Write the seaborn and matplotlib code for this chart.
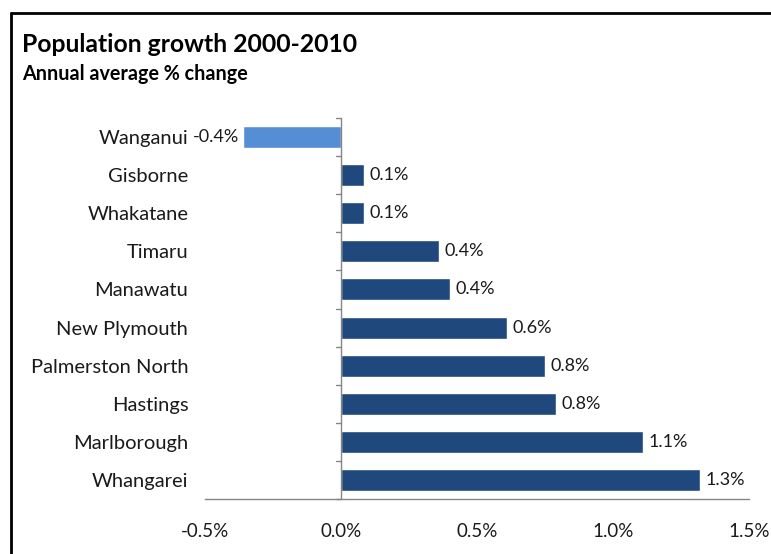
import matplotlib
matplotlib.use("Agg")
import matplotlib.pyplot as plt
import seaborn as sns
import pandas as pd
from matplotlib.lines import Line2D

regions = ["Wanganui", "Gisborne", "Whakatane", "Timaru", "Manawatu",
           "New Plymouth", "Palmerston North", "Hastings", "Marlborough", "Whangarei"]
growth = [-0.36, 0.085, 0.085, 0.36, 0.40, 0.61, 0.75, 0.79, 1.11, 1.32]
x_ticks = [-0.5, 0.0, 0.5, 1.0, 1.5]

sns.set_theme(style="white")
plt.rcParams["font.family"] = ["Lato", "DejaVu Sans"]

df = pd.DataFrame({"region": regions, "growth": growth})
df["sign"] = ["neg" if v < 0 else "pos" for v in growth]

fig = plt.figure(figsize=(7.71, 5.54), dpi=100)
ax = fig.add_axes([205 / 771, 55 / 554, 544 / 771, 381 / 554])

sns.barplot(data=df, y="region", x="growth", hue="sign", orient="h",
            palette={"neg": "#558ED5", "pos": "#1F497D"}, width=0.58,
            dodge=False, legend=False, saturation=1, ax=ax)

ax.set_xlim(-0.5, 1.5)
ax.set_ylim(len(regions) - 0.5, -0.5)
ax.set_xticks(x_ticks)
ax.set_xticklabels([f"{t:.1f}%" for t in x_ticks], fontsize=13.5, color="#1a1a1a")
ax.set_xlabel("")
ax.set_ylabel("")
ax.tick_params(axis="x", length=6, width=1, color="#868686", pad=11, direction="out")
ax.tick_params(axis="y", length=0, pad=12, labelsize=14.5, labelcolor="#1a1a1a")

for s in ["top", "right", "left"]:
    ax.spines[s].set_visible(False)
ax.spines["bottom"].set_color("#868686")
ax.spines["bottom"].set_linewidth(1)

# vertical axis crossing at zero, with category separator ticks
ax.axvline(0, color="#868686", lw=1, zorder=3)
for b in [i - 0.5 for i in range(len(regions) + 1)]:
    ax.plot([-0.02, 0], [b, b], color="#868686", lw=1, zorder=3, clip_on=False)

# value labels
for i, v in enumerate(growth):
    if v < 0:
        ax.text(v - 0.015, i, f"{v:.1f}%", ha="right", va="center", fontsize=13, color="#1a1a1a")
    else:
        ax.text(v + 0.02, i, f"{v:.1f}%", ha="left", va="center", fontsize=13, color="#1a1a1a")

fig.text(22 / 771, 1 - 45 / 554, "Population growth 2000-2010", fontsize=17.8,
         fontweight="bold", ha="left", va="center", color="black")
fig.text(22 / 771, 1 - 74 / 554, "Annual average % change", fontsize=14.2,
         fontweight="bold", ha="left", va="center", color="black")

# frame around the chart area
fig.add_artist(Line2D([11 / 771, 11 / 771], [0, 1 - 13 / 554], transform=fig.transFigure,
                      color="black", lw=2))
fig.add_artist(Line2D([11 / 771, 1], [1 - 13 / 554, 1 - 13 / 554], transform=fig.transFigure,
                      color="black", lw=2))

fig.savefig("out.png", dpi=100)
